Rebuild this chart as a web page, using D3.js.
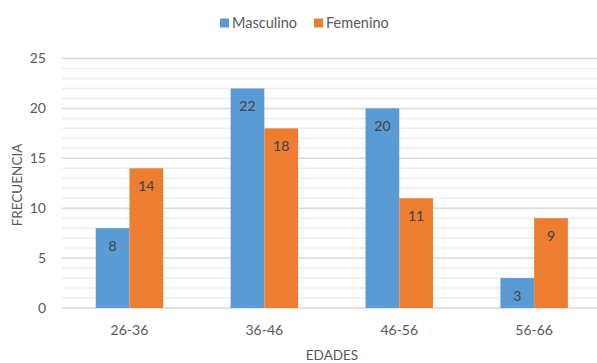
<!DOCTYPE html>
<html>
<head>
<meta charset="utf-8">
<script src="https://cdn.jsdelivr.net/npm/d3@7"></script>
<style>
  body { margin: 0; background: #fff; }
  text { font-family: Lato, "Open Sans", sans-serif; fill: #595959; }
</style>
</head>
<body>
<div id="chart"></div>
<script>
const categories = ["26-36", "36-46", "46-56", "56-66"];
const seriesNames = ["Masculino", "Femenino"];
const masculino = [8, 22, 20, 3];
const femenino = [14, 18, 11, 9];
const yTicks = [0, 5, 10, 15, 20, 25];
const colors = ["#5B9BD5", "#ED7D31"];

const width = 597, height = 363;
const svg = d3.select("#chart").append("svg")
    .attr("width", width)
    .attr("height", height);

const x = d3.scaleBand()
    .domain(categories)
    .range([62, 601.6])
    .paddingInner(0.5)
    .paddingOuter(0.25);

const xSub = d3.scaleBand()
    .domain(seriesNames)
    .range([0, x.bandwidth()]);

const y = d3.scaleLinear()
    .domain([0, 25])
    .range([308, 58.5]);

// minor gridlines
svg.append("g")
    .selectAll("line")
    .data(d3.range(0, 26).filter(v => v % 5 !== 0))
    .enter().append("line")
    .attr("x1", 62).attr("x2", width)
    .attr("y1", d => y(d)).attr("y2", d => y(d))
    .attr("stroke", "#eeeeee")
    .attr("stroke-width", 1.5);

// major gridlines
svg.append("g")
    .selectAll("line")
    .data(yTicks)
    .enter().append("line")
    .attr("x1", 62).attr("x2", width)
    .attr("y1", d => y(d)).attr("y2", d => y(d))
    .attr("stroke", "#d9d9d9")
    .attr("stroke-width", 1.5);

// y tick labels
svg.append("g")
    .selectAll("text")
    .data(yTicks)
    .enter().append("text")
    .attr("x", 46)
    .attr("y", d => y(d))
    .attr("dy", "0.35em")
    .attr("text-anchor", "end")
    .style("font-size", "14px")
    .text(d => d);

const rows = categories.map((c, i) => ({
    cat: c,
    values: [
        { name: seriesNames[0], value: masculino[i], color: colors[0] },
        { name: seriesNames[1], value: femenino[i], color: colors[1] }
    ]
}));

const group = svg.selectAll(".grp")
    .data(rows)
    .enter().append("g")
    .attr("class", "grp")
    .attr("transform", d => `translate(${x(d.cat)},0)`);

group.selectAll("rect")
    .data(d => d.values)
    .enter().append("rect")
    .attr("x", d => xSub(d.name))
    .attr("y", d => y(d.value))
    .attr("width", xSub.bandwidth())
    .attr("height", d => y(0) - y(d.value))
    .attr("fill", d => d.color);

group.selectAll("text")
    .data(d => d.values)
    .enter().append("text")
    .attr("x", d => xSub(d.name) + xSub.bandwidth() / 2)
    .attr("y", d => y(d.value) + 18)
    .attr("dy", "0.35em")
    .attr("text-anchor", "middle")
    .style("font-size", "14px")
    .style("fill", "#404040")
    .text(d => d.value);

// x labels
svg.append("g")
    .selectAll("text")
    .data(categories)
    .enter().append("text")
    .attr("x", d => x(d) + x.bandwidth() / 2)
    .attr("y", 330)
    .attr("dy", "0.35em")
    .attr("text-anchor", "middle")
    .style("font-size", "14px")
    .text(d => d);

// axis titles
svg.append("text")
    .attr("x", 332)
    .attr("y", 355)
    .attr("dy", "0.35em")
    .attr("text-anchor", "middle")
    .style("font-size", "13.5px")
    .text("EDADES");

svg.append("text")
    .attr("transform", "translate(17,185) rotate(-90)")
    .attr("dy", "0.35em")
    .attr("text-anchor", "middle")
    .style("font-size", "13.5px")
    .text("FRECUENCIA");

// legend
const legend = svg.append("g")
    .selectAll("g")
    .data(seriesNames)
    .enter().append("g")
    .attr("transform", (d, i) => `translate(${[220, 314][i]},18.5)`);

legend.append("rect")
    .attr("width", 9).attr("height", 9)
    .attr("fill", (d, i) => colors[i]);

legend.append("text")
    .attr("x", 12)
    .attr("y", 4.5)
    .attr("dy", "0.35em")
    .style("font-size", "14.5px")
    .text(d => d);
</script>
</body>
</html>
